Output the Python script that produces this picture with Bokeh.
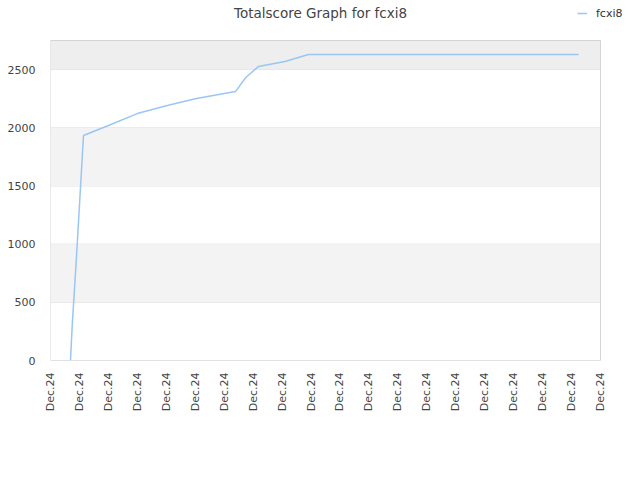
from math import pi
from bokeh.plotting import figure
from bokeh.models import FixedTicker, BoxAnnotation, Range1d, Legend, LegendItem, Label
from bokeh.embed import file_html
from bokeh.resources import INLINE

# data
x_tick_pos = list(range(20))
x_tick_labels = ["Dec.24"] * 20
score_x = [0.69, 0.75, 0.9, 1.14, 2.0, 3.0, 4.0, 5.0, 6.39, 6.74, 7.18, 8.1, 8.91, 18.24]
score_y = [0, 300, 900, 1933, 2019, 2122, 2190, 2250, 2311, 2430, 2526, 2570, 2629, 2629]
y_ticks = [0, 500, 1000, 1500, 2000, 2500]

FONT = "DejaVu Sans"

# layout: frame spans to canvas top/right; the visible plot box is drawn as an annotation
X_MAX, Y_MAX = 19, 2750
FRAME_W, FRAME_H = 590, 360
BOX_W, BOX_H = 550, 320
x_end = X_MAX * FRAME_W / BOX_W
y_end = Y_MAX * FRAME_H / BOX_H

p = figure(width=640, height=480, output_backend="svg", toolbar_location=None,
           x_range=Range1d(0, x_end), y_range=Range1d(0, y_end),
           min_border_left=50, min_border_right=0, min_border_top=0, min_border_bottom=120)
p.outline_line_color = None
p.background_fill_color = "white"

# bands
for lo, hi, col in [(500, 1000, "#f3f3f3"), (1500, 2000, "#f3f3f3"), (2500, Y_MAX, "#eeeeee")]:
    p.add_layout(BoxAnnotation(left=0, right=X_MAX, bottom=lo, top=hi, fill_color=col,
                               fill_alpha=1.0, line_color=None, level="underlay"))

# grid lines
p.segment(x0=0, x1=X_MAX, y0=y_ticks, y1=y_ticks, line_color="#e0e0e0", line_width=1,
          level="underlay")

# plot box outline
p.add_layout(BoxAnnotation(left=0, right=X_MAX, bottom=0, top=Y_MAX, fill_alpha=0,
                           line_color="#d4d4d4", line_alpha=1.0, line_width=1))

r = p.line(score_x, score_y, line_color="#99c6f4", line_width=1.5)

p.xaxis.ticker = FixedTicker(ticks=x_tick_pos)
p.xaxis.major_label_overrides = {i: lab for i, lab in zip(x_tick_pos, x_tick_labels)}
p.xaxis.major_label_orientation = pi / 2
p.yaxis.ticker = FixedTicker(ticks=y_ticks)

for ax in (p.xaxis, p.yaxis):
    ax.axis_line_color = None
    ax.major_tick_line_color = None
    ax.minor_tick_line_color = None
    ax.major_label_text_font = FONT
    ax.major_label_text_font_size = "11px"
    ax.major_label_text_color = "#444444"
p.yaxis.major_label_standoff = 9
p.xaxis.major_label_standoff = 6
p.grid.grid_line_color = None

# title
title_x = X_MAX * (320 - 50) / BOX_W
title_y = y_end * (FRAME_H - 12) / FRAME_H
p.add_layout(Label(x=title_x, y=title_y, text="Totalscore Graph for fcxi8",
                   text_font=FONT, text_font_size="13.5px", text_color="#444444",
                   text_align="center", text_baseline="middle"))

legend = Legend(items=[LegendItem(label="fcxi8", renderers=[r])], location=(527, 340),
                background_fill_alpha=0, border_line_color=None,
                label_text_font=FONT, label_text_font_size="11px", label_text_color="#333333",
                glyph_width=10, glyph_height=14, label_height=14, label_standoff=9,
                padding=0, margin=0)
p.add_layout(legend, "center")

open("out.html", "w").write(file_html(p, INLINE))
